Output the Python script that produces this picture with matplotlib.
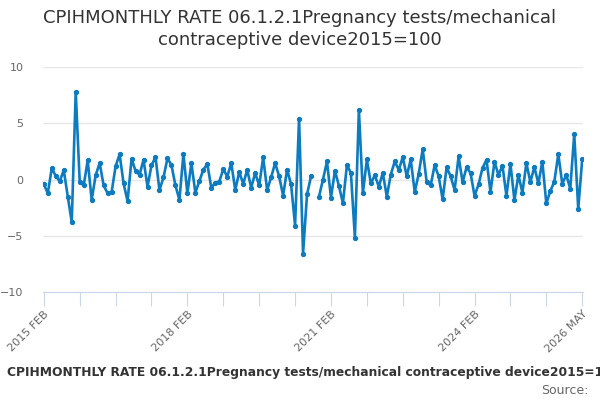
import matplotlib.pyplot as plt
import numpy as np
import pandas as pd

plt.rcParams["font.family"] = ["DejaVu Sans"]

# monthly rate, Feb 2015 .. May 2026 (one missing month, Oct 2020)
months = pd.period_range("2015-02", "2026-05", freq="M")
values = [
    -0.41, -1.23, 1.02, 0.29, -0.15, 0.82, -1.52, -3.8, 7.8, -0.23,
    -0.53, 1.7, -1.81, 0.38, 1.46, -0.53, -1.23, -1.11, 1.17, 2.25,
    -0.35, -1.93, 1.84, 0.76, 0.41, 1.75, -0.64, 1.26, 1.99, -0.94,
    0.18, 1.87, 1.29, -0.53, -1.81, 2.25, -1.23, 1.46, -1.17, -0.15,
    0.88, 1.37, -0.73, -0.29, -0.18, 0.91, 0.26, 1.46, -0.94, 0.67,
    -0.38, 0.85, -0.73, 0.58, -0.53, 1.96, -0.94, 0.2, 1.46, 0.29,
    -1.43, 0.88, -0.44, -4.09, 5.41, -6.58, -1.32, 0.29, np.nan, -1.52,
    0.0, 1.61, -1.61, 0.79, -0.58, -2.11, 1.29, 0.58, -5.18, 6.2,
    -1.23, 1.78, -0.35, 0.38, -0.64, 0.58, -1.52, 0.44, 1.61, 0.85,
    1.99, 0.29, 1.78, -1.11, 0.5, 2.69, -0.23, -0.53, 1.29, 0.29,
    -1.75, 1.08, 0.29, -0.94, 2.05, -0.23, 1.08, 0.58, -1.46, -0.44,
    1.02, 1.75, -1.11, 1.58, 0.41, 1.23, -1.46, 1.4, -1.84, 0.41,
    -1.17, 1.46, -0.23, 1.11, -0.35, 1.58, -2.13, -1.02, -0.2, 2.25,
    -0.38, 0.41, -0.82, 4.04, -2.63, 1.81,
]
labels = [f"{p.year} {p.strftime('%b').upper()}" for p in months]
label_idx = [0, 36, 72, 108, 135]

title = "CPIHMONTHLY RATE 06.1.2.1Pregnancy tests/mechanical\ncontraceptive device2015=100"
caption = "CPIHMONTHLY RATE 06.1.2.1Pregnancy tests/mechanical contraceptive device2015=100"

fig = plt.figure(figsize=(6, 4), dpi=100)
ax = fig.add_axes([0.0717, 0.27, 0.9, 0.5625])

x = np.arange(len(values))
ax.plot(x, values, color="#0c7bc0", linewidth=1.9, marker="o", markersize=2.8)

ax.set_xlim(-0.2, 135.2)
ax.set_ylim(-10, 10)
ax.set_yticks([-10, -5, 0, 5, 10])
ax.grid(axis="y", color="#e6e6e6", linewidth=1)
ax.set_axisbelow(True)

ax.set_xticks(np.arange(0, 136, 9))
ax.set_xticklabels([labels[i] if i in label_idx else "" for i in range(0, 136, 9)],
                   rotation=45, ha="right", va="top", rotation_mode="anchor")
ax.tick_params(axis="x", length=10, color="#ccd6eb", labelsize=8, labelcolor="#666666", pad=2)
ax.tick_params(axis="y", length=0, labelsize=8, labelcolor="#666666", pad=14)

for s in ["top", "right", "left"]:
    ax.spines[s].set_visible(False)
ax.spines["bottom"].set_color("#ccd6eb")

fig.text(0.5, 0.978, title, ha="center", va="top", fontsize=13, color="#333333", linespacing=1.3)
fig.text(0.012, 0.068, caption, ha="left", va="center", fontsize=8.8, fontweight="bold", color="#333333")
fig.text(0.98, 0.025, "Source:", ha="right", va="center", fontsize=9, color="#666666")

fig.savefig("out.png", dpi=100)
